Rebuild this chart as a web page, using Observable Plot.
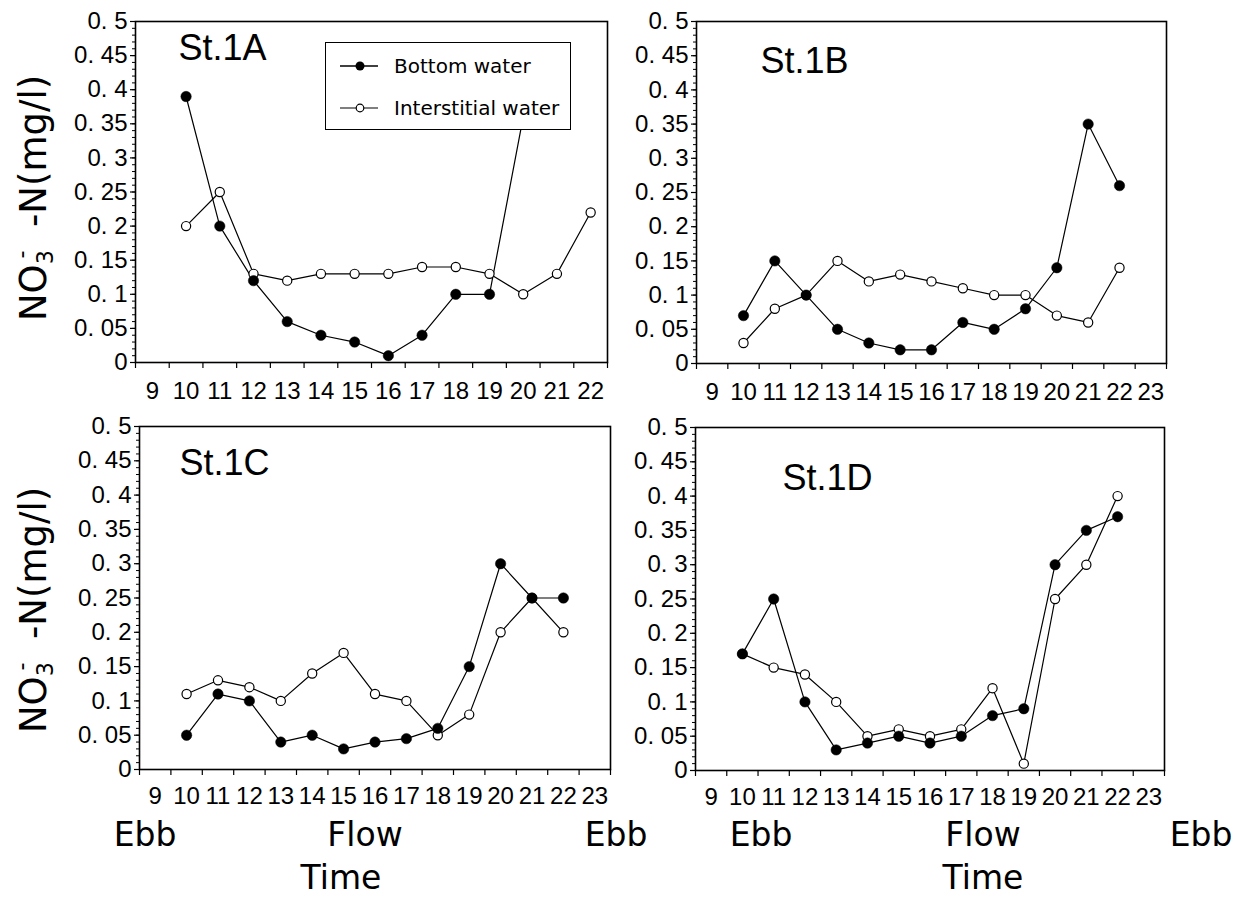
<!DOCTYPE html>
<html>
<head>
<meta charset="utf-8">
<script src="https://cdn.jsdelivr.net/npm/d3@7"></script>
<script src="https://cdn.jsdelivr.net/npm/@observablehq/plot@0.6"></script>
<style>
  html, body { margin: 0; padding: 0; background: #fff; }
  #root { position: relative; width: 1243px; height: 897px; overflow: hidden; background: #fff; }
  .panel { position: absolute; }
  .panel svg { overflow: visible; }
  .txt { position: absolute; font-family: "DejaVu Sans", sans-serif; color: #000; white-space: nowrap; line-height: 1; transform: translate(-50%, -50%); }
  .ylab { position: absolute; font-family: "DejaVu Sans", sans-serif; font-size: 37px; color: #000; white-space: nowrap; line-height: 1;
          transform: translate(-50%, -50%) rotate(-90deg); }
  .ylab sub { font-size: 0.6em; vertical-align: -0.3em; }
  .ylab sup { font-size: 0.6em; vertical-align: 0.75em; margin-left: -0.38em; }
  .legend { position: absolute; background: #fff; border: 1.5px solid #000; box-sizing: border-box; }
  .legend .row { position: absolute; left: 68px; font-family: "DejaVu Sans", sans-serif; font-size: 20px; line-height: 1; transform: translateY(-50%); white-space: nowrap; }
</style>
</head>
<body>
<div id="root"></div>
<script>
// ---- data ----
const hoursA = [9, 10, 11, 12, 13, 14, 15, 16, 17, 18, 19, 20, 21, 22];           // x tick labels, panel St.1A
const hoursBCD = [9, 10, 11, 12, 13, 14, 15, 16, 17, 18, 19, 20, 21, 22, 23];     // x tick labels, other panels
const sampleHours = [10, 11, 12, 13, 14, 15, 16, 17, 18, 19, 20, 21, 22];

const bottomA = [0.39, 0.20, 0.12, 0.06, 0.04, 0.03, 0.01, 0.04, 0.10, 0.10, 0.36, null, null];
const interA  = [0.20, 0.25, 0.13, 0.12, 0.13, 0.13, 0.13, 0.14, 0.14, 0.13, 0.10, 0.13, 0.22];
const bottomB = [0.07, 0.15, 0.10, 0.05, 0.03, 0.02, 0.02, 0.06, 0.05, 0.08, 0.14, 0.35, 0.26];
const interB  = [0.03, 0.08, 0.10, 0.15, 0.12, 0.13, 0.12, 0.11, 0.10, 0.10, 0.07, 0.06, 0.14];
const bottomC = [0.05, 0.11, 0.10, 0.04, 0.05, 0.03, 0.04, 0.045, 0.06, 0.15, 0.30, 0.25, 0.25];
const interC  = [0.11, 0.13, 0.12, 0.10, 0.14, 0.17, 0.11, 0.10, 0.05, 0.08, 0.20, 0.25, 0.20];
const bottomD = [0.17, 0.25, 0.10, 0.03, 0.04, 0.05, 0.04, 0.05, 0.08, 0.09, 0.30, 0.35, 0.37];
const interD  = [0.17, 0.15, 0.14, 0.10, 0.05, 0.06, 0.05, 0.06, 0.12, 0.01, 0.25, 0.30, 0.40];

const yTicks = [0, 0.05, 0.1, 0.15, 0.2, 0.25, 0.3, 0.35, 0.4, 0.45, 0.5];
const yTickLabels = ["0", "0. 05", "0. 1", "0. 15", "0. 2", "0. 25", "0. 3", "0. 35", "0. 4", "0. 45", "0. 5"];
const stationNames = ["St.1A", "St.1B", "St.1C", "St.1D"];
const seriesNames = ["Bottom water", "Interstitial water"];
const tideLabels = ["Ebb", "Flow", "Ebb"];
const xTitle = "Time";

// ---- helpers ----
const yLabelOf = new Map(yTicks.map((v, i) => [v, yTickLabels[i]]));
const minorTicks = d3.range(0, 51).map(i => i / 100);
const rows = arr => sampleHours.map((h, i) => ({hour: h, value: arr[i]})).filter(d => d.value != null);
const root = document.getElementById("root");

function panel({left, top, width, height, mL, mR, mT, mB, hours, bottom, inter, title, tdx, tdy, pad}) {
  const bounds = hours.map(h => h - 0.5).concat([hours[hours.length - 1] + 0.5]);
  const bRows = rows(bottom), iRows = rows(inter);
  const chart = Plot.plot({
    width, height,
    marginLeft: mL, marginRight: mR, marginTop: mT, marginBottom: mB,
    x: {domain: [hours[0] - 0.5, hours[hours.length - 1] + 0.5], label: null},
    y: {domain: [0, 0.5], label: null},
    style: {
      fontFamily: "'Liberation Sans', Arial, sans-serif",
      fontSize: "24px", color: "#000", background: "transparent", overflow: "visible"
    },
    marks: [
      Plot.axisY(minorTicks, {tickSize: 3, tickFormat: () => "", strokeWidth: 1}),
      Plot.axisY(yTicks, {tickSize: 5, tickPadding: 3, tickFormat: d => yLabelOf.get(d), strokeWidth: 1.2}),
      Plot.axisX(bounds, {tickSize: 6, tickFormat: () => "", strokeWidth: 1.2}),
      Plot.axisX(hours, {tickSize: 0, tickPadding: pad, tickFormat: d => String(d)}),
      Plot.line(iRows, {x: "hour", y: "value", stroke: "#000", strokeWidth: 1.2}),
      Plot.line(bRows, {x: "hour", y: "value", stroke: "#000", strokeWidth: 1.2}),
      Plot.dot(iRows, {x: "hour", y: "value", r: 4.6, fill: "#fff", stroke: "#000", strokeWidth: 1.2}),
      Plot.dot(bRows, {x: "hour", y: "value", r: 5.2, fill: "#000", stroke: "#000", strokeWidth: 0.5}),
      Plot.frame({stroke: "#000", strokeWidth: 1.6}),
      Plot.text([title], {frameAnchor: "top-left", dx: tdx, dy: tdy, textAnchor: "start", lineAnchor: "middle",
        fontFamily: "'Liberation Sans', Arial, sans-serif", fontSize: 36, fill: "#000"})
    ]
  });
  const div = document.createElement("div");
  div.className = "panel";
  div.style.left = left + "px";
  div.style.top = top + "px";
  div.appendChild(chart);
  root.appendChild(div);
}

panel({left: 0, top: 0, width: 620, height: 400, mL: 135, mR: 13, mT: 21, mB: 38,
  hours: hoursA, bottom: bottomA, inter: interA, title: stationNames[0], tdx: 43, tdy: 27, pad: 19});
panel({left: 620, top: 0, width: 623, height: 400, mL: 76, mR: 77, mT: 21, mB: 37,
  hours: hoursBCD, bottom: bottomB, inter: interB, title: stationNames[1], tdx: 64, tdy: 40, pad: 19});
panel({left: 0, top: 400, width: 620, height: 420, mL: 139, mR: 10, mT: 26, mB: 51,
  hours: hoursBCD, bottom: bottomC, inter: interC, title: stationNames[2], tdx: 40, tdy: 37, pad: 17});
panel({left: 620, top: 400, width: 623, height: 420, mL: 75, mR: 79, mT: 27, mB: 50,
  hours: hoursBCD, bottom: bottomD, inter: interD, title: stationNames[3], tdx: 87, tdy: 51, pad: 17});

// legend (panel St.1A)
const leg = document.createElement("div");
leg.className = "legend";
Object.assign(leg.style, {left: "325px", top: "42px", width: "246px", height: "88px"});
leg.innerHTML =
  `<svg width="246" height="88" style="position:absolute;left:0;top:0">
     <line x1="14" x2="52" y1="23" y2="23" stroke="#000" stroke-width="1.5"/>
     <circle cx="34" cy="23" r="4.5" fill="#000"/>
     <line x1="14" x2="52" y1="65" y2="65" stroke="#000" stroke-width="1.2"/>
     <circle cx="34" cy="65" r="3.8" fill="#fff" stroke="#000" stroke-width="1.2"/>
   </svg>
   <div class="row" style="top:23px">${seriesNames[0]}</div>
   <div class="row" style="top:65px">${seriesNames[1]}</div>`;
root.appendChild(leg);

// y-axis titles
for (const cy of [198, 610]) {
  const y = document.createElement("div");
  y.className = "ylab";
  y.style.left = "33px";
  y.style.top = cy + "px";
  y.innerHTML = "NO<sub>3</sub><sup>-</sup>&nbsp;&nbsp;-N(mg/l)";
  root.appendChild(y);
}

// tide labels and Time titles
function label(text, cx, cy, size) {
  const t = document.createElement("div");
  t.className = "txt";
  t.textContent = text;
  t.style.left = cx + "px";
  t.style.top = cy + "px";
  t.style.fontSize = size + "px";
  root.appendChild(t);
}
[[145, 365, 616], [761, 983, 1201]].forEach(xs => {
  xs.forEach((cx, i) => label(tideLabels[i], cx, 834, 33));
});
label(xTitle, 341, 877, 33);
label(xTitle, 983, 877, 33);
</script>
</body>
</html>
